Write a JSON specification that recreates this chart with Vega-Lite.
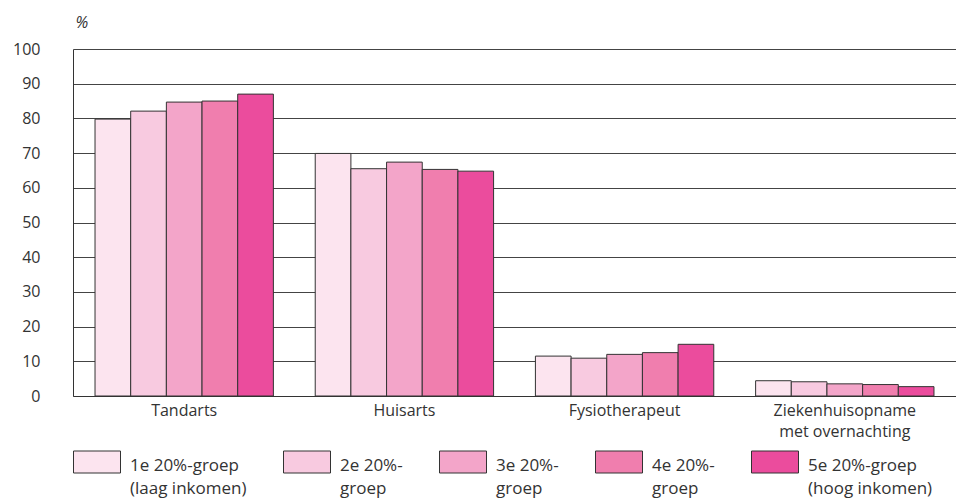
{
  "$schema": "https://vega.github.io/schema/vega-lite/v6.json",
  "width": 883,
  "height": 347,
  "autosize": {"type": "none"},
  "padding": {"left": 73, "top": 49, "right": 0, "bottom": 102},
  "background": "white",
  "config": {
    "font": "Open Sans",
    "view": {"stroke": null},
    "axis": {"labelFont": "Open Sans", "labelColor": "#333", "labelFontSize": 16, "titleFont": "Open Sans"},
    "legend": {"labelFont": "Open Sans"},
    "style": {"guide-label": {"lineHeight": 23}}
  },
  "data": {
    "values": [
      {"zorg": "Tandarts", "groep": "1e", "pct": 79.8},
      {"zorg": "Tandarts", "groep": "2e", "pct": 82.1},
      {"zorg": "Tandarts", "groep": "3e", "pct": 84.7},
      {"zorg": "Tandarts", "groep": "4e", "pct": 85.0},
      {"zorg": "Tandarts", "groep": "5e", "pct": 87.0},
      {"zorg": "Huisarts", "groep": "1e", "pct": 69.9},
      {"zorg": "Huisarts", "groep": "2e", "pct": 65.5},
      {"zorg": "Huisarts", "groep": "3e", "pct": 67.4},
      {"zorg": "Huisarts", "groep": "4e", "pct": 65.3},
      {"zorg": "Huisarts", "groep": "5e", "pct": 64.8},
      {"zorg": "Fysiotherapeut", "groep": "1e", "pct": 11.5},
      {"zorg": "Fysiotherapeut", "groep": "2e", "pct": 10.9},
      {"zorg": "Fysiotherapeut", "groep": "3e", "pct": 12.0},
      {"zorg": "Fysiotherapeut", "groep": "4e", "pct": 12.5},
      {"zorg": "Fysiotherapeut", "groep": "5e", "pct": 14.9},
      {"zorg": "Ziekenhuisopname met overnachting", "groep": "1e", "pct": 4.4},
      {"zorg": "Ziekenhuisopname met overnachting", "groep": "2e", "pct": 4.1},
      {"zorg": "Ziekenhuisopname met overnachting", "groep": "3e", "pct": 3.5},
      {"zorg": "Ziekenhuisopname met overnachting", "groep": "4e", "pct": 3.3},
      {"zorg": "Ziekenhuisopname met overnachting", "groep": "5e", "pct": 2.7}
    ]
  },
  "mark": {"type": "bar", "stroke": "#333", "strokeWidth": 1},
  "encoding": {
    "x": {
      "field": "zorg",
      "type": "nominal",
      "sort": ["Tandarts", "Huisarts", "Fysiotherapeut", "Ziekenhuisopname met overnachting"],
      "scale": {"paddingInner": 0.19, "paddingOuter": 0.1},
      "axis": {
        "title": null,
        "labelAngle": 0,
        "ticks": false,
        "labelPadding": 6,
        "domainColor": "#333",
        "labelLineHeight": 21,
        "labelExpr": "datum.value == 'Ziekenhuisopname met overnachting' ? ['Ziekenhuisopname', 'met overnachting'] : datum.value"
      }
    },
    "xOffset": {
      "field": "groep",
      "type": "nominal",
      "scale": {"paddingInner": 0, "paddingOuter": 0}
    },
    "y": {
      "field": "pct",
      "type": "quantitative",
      "scale": {"domain": [0, 100]},
      "axis": {
        "values": [0, 10, 20, 30, 40, 50, 60, 70, 80, 90, 100],
        "ticks": false,
        "labelPadding": 33,
        "domainColor": "#333",
        "gridColor": "#444",
        "gridWidth": 1,
        "title": "%",
        "titleAngle": 0,
        "titleAlign": "left",
        "titleBaseline": "middle",
        "titleX": 2,
        "titleY": -27,
        "titleFontSize": 16,
        "titleFontWeight": "normal",
        "titleFontStyle": "italic",
        "titleColor": "#333"
      }
    },
    "fill": {
      "field": "groep",
      "type": "nominal",
      "scale": {
        "domain": ["1e", "2e", "3e", "4e", "5e"],
        "range": ["#FCE4EF", "#F8CAE0", "#F3A5C9", "#F07EAE", "#EB4C9D"]
      },
      "legend": {
        "title": null,
        "orient": "none",
        "legendX": 0,
        "legendY": 393,
        "direction": "horizontal",
        "columns": 5,
        "gridAlign": "each",
        "columnPadding": 34,
        "symbolType": "M-1,-0.638H1V0.298H-1Z",
        "symbolSize": 2209,
        "symbolStrokeColor": "#333",
        "symbolStrokeWidth": 1,
        "symbolOpacity": 1,
        "labelOffset": 9,
        "labelFontSize": 17,
        "labelColor": "#333",
        "labelBaseline": "middle",
        "labelLimit": 220,
        "labelExpr": "datum.value == '1e' ? ['1e 20%-groep', '(laag inkomen)'] : datum.value == '5e' ? ['5e 20%-groep', '(hoog inkomen)'] : [datum.value + ' 20%-', 'groep']"
      }
    }
  }
}
